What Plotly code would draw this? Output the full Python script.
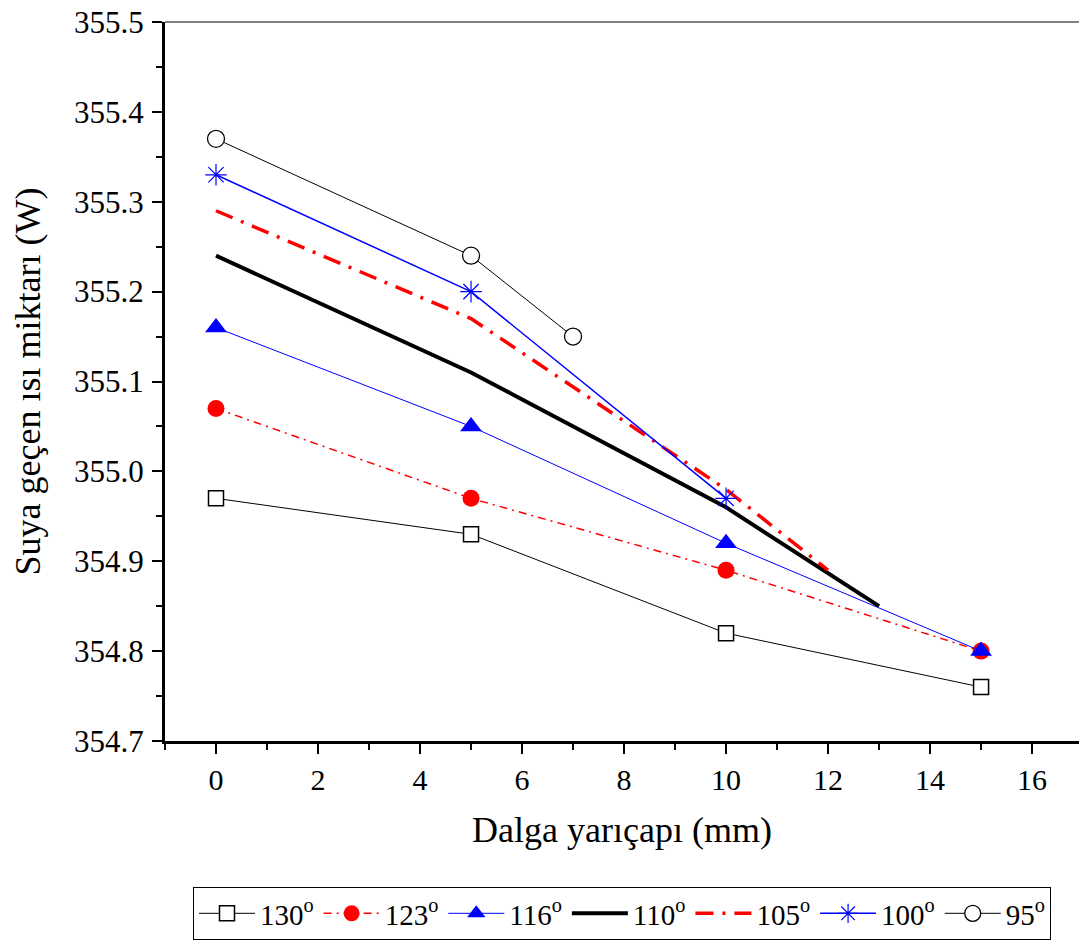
import plotly.graph_objects as go

x_130 = [0, 5, 10, 15]
y_130 = [354.97, 354.93, 354.82, 354.76]
x_123 = [0, 5, 10, 15]
y_123 = [355.07, 354.97, 354.89, 354.80]
x_116 = [0, 5, 10, 15]
y_116 = [355.16, 355.05, 354.92, 354.80]
x_110 = [0, 5, 10, 13]
y_110 = [355.24, 355.11, 354.96, 354.85]
x_105 = [0, 5, 10, 12]
y_105 = [355.29, 355.17, 354.98, 354.89]
x_100 = [0, 5, 10]
y_100 = [355.33, 355.20, 354.97]
x_95 = [0, 5, 7]
y_95 = [355.37, 355.24, 355.15]

names = ["130<sup>o</sup>", "123<sup>o</sup>", "116<sup>o</sup>", "110<sup>o</sup>",
         "105<sup>o</sup>", "100<sup>o</sup>", "95<sup>o</sup>"]

FONT = "Liberation Serif"

fig = go.Figure()
fig.add_trace(go.Scatter(x=x_130, y=y_130, name=names[0], mode="lines+markers",
                         line=dict(color="black", width=1),
                         marker=dict(symbol="square", size=15, color="white",
                                     line=dict(color="black", width=1.5))))
fig.add_trace(go.Scatter(x=x_123, y=y_123, name=names[1], mode="lines+markers",
                         line=dict(color="red", width=1.5, dash="8px,5px,2px,5px"),
                         marker=dict(symbol="circle", size=17, color="red")))
fig.add_trace(go.Scatter(x=x_116, y=y_116, name=names[2], mode="lines+markers",
                         line=dict(color="blue", width=1),
                         marker=dict(symbol="triangle-up", size=19, color="blue")))
fig.add_trace(go.Scatter(x=x_110, y=y_110, name=names[3], mode="lines",
                         line=dict(color="black", width=4)))
fig.add_trace(go.Scatter(x=x_105, y=y_105, name=names[4], mode="lines",
                         line=dict(color="red", width=3.5, dash="18px,9px,3px,9px")))
fig.add_trace(go.Scatter(x=x_100, y=y_100, name=names[5], mode="lines+markers",
                         line=dict(color="blue", width=1.5),
                         marker=dict(symbol="asterisk-open", size=18,
                                     line=dict(color="blue", width=1.2))))
fig.add_trace(go.Scatter(x=x_95, y=y_95, name=names[6], mode="lines+markers",
                         line=dict(color="black", width=1),
                         marker=dict(symbol="circle", size=17, color="white",
                                     line=dict(color="black", width=1.3))))

fig.update_layout(
    width=1079, height=941,
    margin=dict(l=165, r=0, t=22, b=200, autoexpand=False),
    paper_bgcolor="white", plot_bgcolor="white",
    font=dict(family=FONT, color="black", size=28),
    showlegend=True,
    legend=dict(orientation="h", x=0.5, xanchor="center", y=-0.203, yanchor="top",
                bordercolor="black", borderwidth=1, font=dict(size=29, family=FONT),
                itemwidth=56, tracegroupgap=0),
)
fig.update_xaxes(
    range=[-1, 16.92], tickmode="array", tickvals=[0, 2, 4, 6, 8, 10, 12, 14, 16],
    automargin=False, ticklabeloverflow="allow",
    showgrid=False, zeroline=False, showline=True, linecolor="black", linewidth=3,
    ticks="outside", ticklen=10, tickwidth=2, tickcolor="black",
    minor=dict(dtick=1, tick0=-1, ticks="outside", ticklen=6, tickwidth=2, tickcolor="black"),
    tickfont=dict(size=30, family=FONT),
    title=dict(text="Dalga yarıçapı (mm)", font=dict(size=36, family=FONT), standoff=22),
)
fig.update_yaxes(
    range=[354.7, 355.5], dtick=0.1, tickformat=".1f",
    automargin=False, ticklabelstandoff=2, ticklabeloverflow="allow",
    showgrid=False, zeroline=False, showline=True, linecolor="black", linewidth=3,
    ticks="outside", ticklen=10, tickwidth=2, tickcolor="black",
    minor=dict(dtick=0.05, ticks="outside", ticklen=6, tickwidth=2, tickcolor="black"),
    tickfont=dict(size=31, family=FONT),
    title=dict(text="Suya geçen ısı miktarı (W)", font=dict(size=36, family=FONT), standoff=23),
)
fig.add_shape(type="line", xref="paper", yref="paper", x0=0, x1=1, y0=1, y1=1,
              line=dict(color="black", width=1))

fig.write_html("out.html", config={"displayModeBar": False},
               post_script="document.body.style.margin='0';")
